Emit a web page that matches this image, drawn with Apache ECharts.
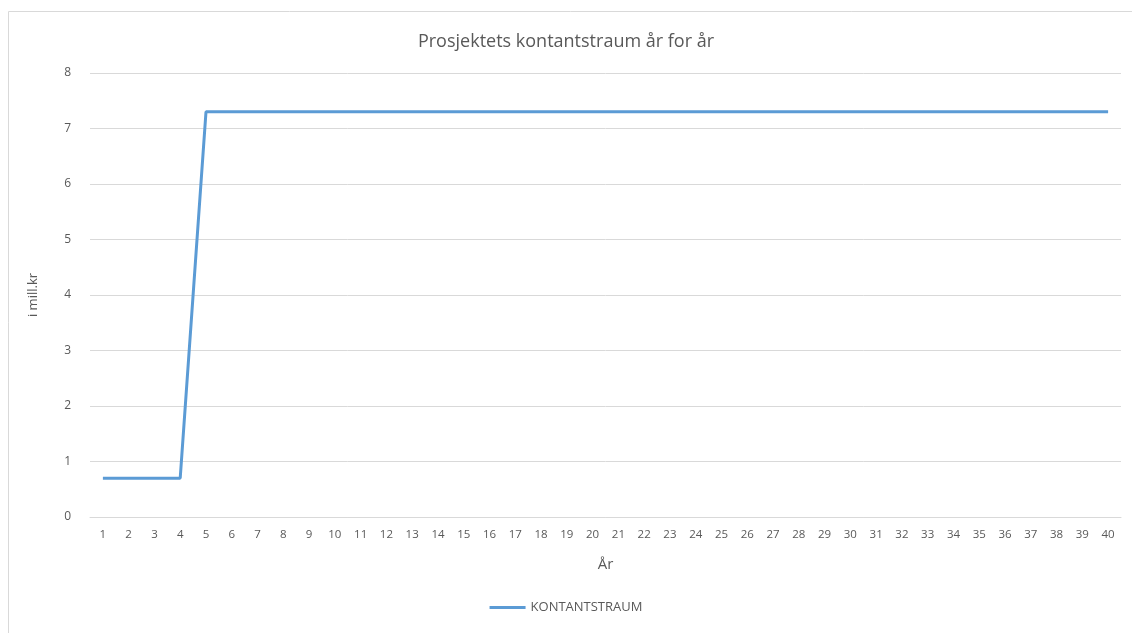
<!DOCTYPE html>
<html>
<head>
<meta charset="utf-8">
<script src="https://cdn.jsdelivr.net/npm/echarts@6/dist/echarts.min.js"></script>
<style>
  html, body { margin: 0; padding: 0; background: #fff; }
  #main { width: 1132px; height: 633px; }
</style>
</head>
<body>
<div id="main"></div>
<script>
// years 1..40
var years = [];
for (var i = 1; i <= 40; i++) years.push(String(i));

// cash flow per year, in million kr
var kontantstraum = [
  0.7, 0.7, 0.7, 0.7,
  7.3, 7.3, 7.3, 7.3, 7.3, 7.3, 7.3, 7.3, 7.3, 7.3,
  7.3, 7.3, 7.3, 7.3, 7.3, 7.3, 7.3, 7.3, 7.3, 7.3,
  7.3, 7.3, 7.3, 7.3, 7.3, 7.3, 7.3, 7.3, 7.3, 7.3,
  7.3, 7.3, 7.3, 7.3, 7.3, 7.3
];

var yTicks = [0, 1, 2, 3, 4, 5, 6, 7, 8];

var chartDom = document.getElementById('main');
var myChart = echarts.init(chartDom, null, { renderer: 'canvas' });

var font = '"Open Sans", "Liberation Sans", sans-serif';

var option = {
  animation: false,
  textStyle: { fontFamily: font },
  graphic: [
    {
      type: 'rect',
      shape: { x: 8.5, y: 11.5, width: 1300, height: 800 },
      style: { fill: 'none', stroke: '#d9d9d9', lineWidth: 1 },
      silent: true
    }
  ],
  title: {
    text: 'Prosjektets kontantstraum år for år',
    left: 'center',
    top: 28,
    textStyle: { fontFamily: font, fontSize: 18, fontWeight: 'normal', color: '#595959' }
  },
  legend: {
    bottom: 14,
    left: 'center',
    itemWidth: 36,
    itemHeight: 3,
    icon: 'rect',
    itemGap: 10,
    textStyle: { fontFamily: font, fontSize: 13, color: '#595959' },
    data: ['KONTANTSTRAUM']
  },
  grid: {
    left: 90,
    right: 11,
    top: 73,
    bottom: 116
  },
  xAxis: {
    type: 'category',
    data: years,
    boundaryGap: true,
    name: 'År',
    nameLocation: 'middle',
    nameGap: 40,
    nameTextStyle: { fontFamily: font, fontSize: 15, color: '#595959' },
    axisLine: { show: true, lineStyle: { color: '#d9d9d9' } },
    axisTick: { show: false },
    axisLabel: { interval: 0, color: '#595959', fontSize: 11.5, margin: 12, fontFamily: font }
  },
  yAxis: {
    type: 'value',
    min: yTicks[0],
    max: yTicks[yTicks.length - 1],
    interval: 1,
    name: 'i mill.kr',
    nameLocation: 'middle',
    nameGap: 50,
    nameRotate: 90,
    nameTextStyle: { fontFamily: font, fontSize: 13, color: '#595959' },
    axisLine: { show: false },
    axisTick: { show: false },
    axisLabel: { color: '#595959', fontSize: 12, margin: 19, fontFamily: font }
    ,
    splitLine: { lineStyle: { color: '#d9d9d9', width: 1 } }
  },
  series: [
    {
      name: 'KONTANTSTRAUM',
      type: 'line',
      data: kontantstraum,
      showSymbol: false,
      symbol: 'none',
      color: '#5b9bd5',
      lineStyle: { color: '#5b9bd5', width: 3 }
    }
  ]
};

myChart.setOption(option);

window.addEventListener('resize', function () {
  myChart.resize();
});
</script>
</body>
</html>
